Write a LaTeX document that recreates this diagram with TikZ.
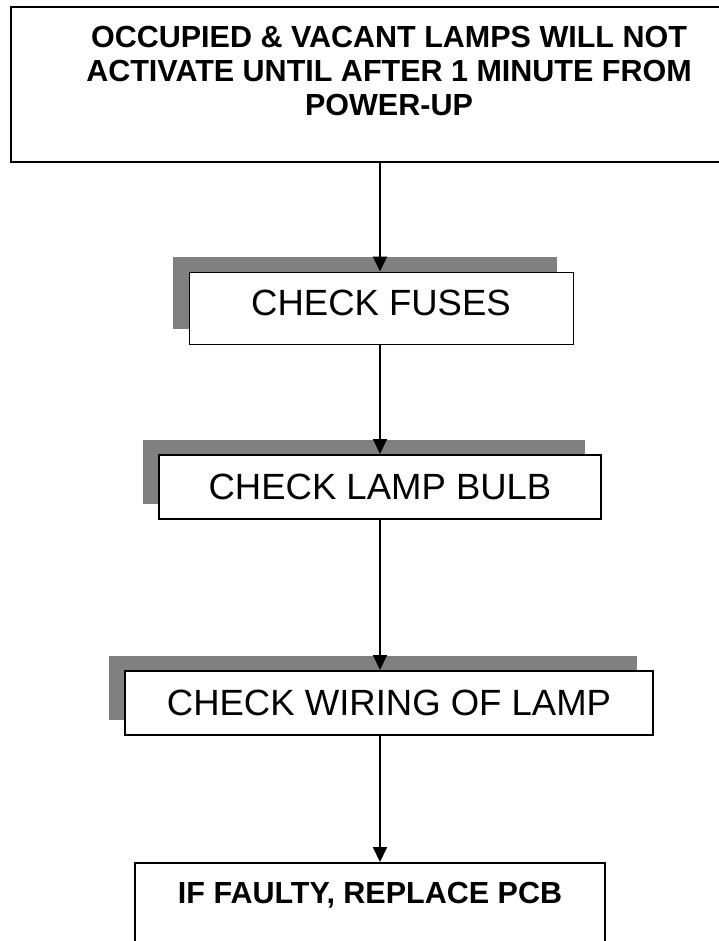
\documentclass[tikz,border=0pt]{standalone}
\usepackage{fontspec}
\setmainfont{Liberation Sans}
\usepackage{tikz}
\usetikzlibrary{arrows.meta,shadows}
\definecolor{shade}{RGB}{128,128,128}

\begin{document}
\begin{tikzpicture}[x=1pt,y=-1pt,
  notebox/.style={draw,line width=2.2pt,anchor=north,align=center,inner xsep=0pt,
                  inner ysep=19pt,font=\fontsize{30.5}{34}\selectfont\bfseries},
  chk/.style={draw,fill=white,line width=2pt,inner sep=0pt,
              font=\fontsize{36.5}{40}\selectfont,
              general shadow={fill=shade,shadow xshift=-16pt,shadow yshift=15pt}},
  arr/.style={-{Triangle[length=15pt,width=14pt]},line width=2pt}]
\clip (0,0) rectangle (719,941);
\coordinate (spine) at (380,0);
\node[notebox,minimum width=756pt,text depth=28pt] (head) at (389,6)
  {OCCUPIED \& VACANT LAMPS WILL NOT\\ACTIVATE UNTIL AFTER 1 MINUTE FROM\\POWER-UP};
\node[chk,line width=1pt,minimum width=384pt,minimum height=72pt,text depth=10pt] (fuses) at (381,308) {CHECK FUSES};
\node[chk,minimum width=442pt,minimum height=64pt] (bulb) at (380,487) {CHECK LAMP BULB};
\node[chk,minimum width=528pt,minimum height=64pt] (wiring) at (389,703) {CHECK WIRING OF LAMP};
\node[notebox,line width=2pt,minimum width=470pt,text depth=80pt] (pcb) at (370,862) {IF FAULTY, REPLACE PCB};
% arrows down the middle
\draw[arr] (head.south -| spine) -- (fuses.north -| spine);
\draw[arr] (fuses.south -| spine) -- (bulb.north -| spine);
\draw[arr] (bulb.south -| spine) -- (wiring.north -| spine);
\draw[arr] (wiring.south -| spine) -- (pcb.north -| spine);
\end{tikzpicture}
\end{document}
